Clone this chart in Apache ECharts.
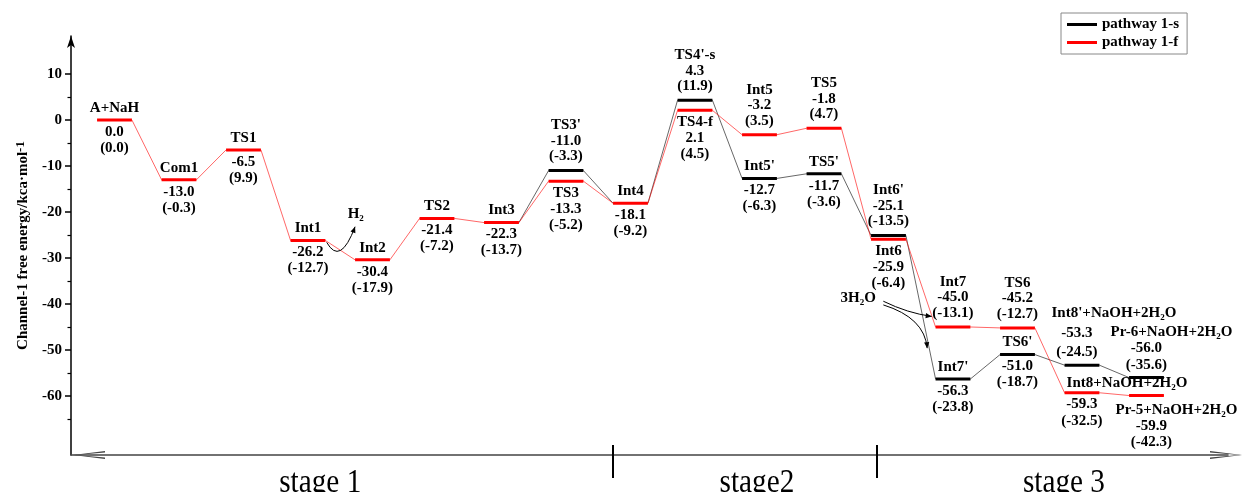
<!DOCTYPE html>
<html><head><meta charset="utf-8">
<script src="https://cdn.jsdelivr.net/npm/echarts@6/dist/echarts.min.js"></script>
<style>html,body{margin:0;padding:0;background:#fff}#c{width:1244px;height:492px}</style>
</head><body><div id="c"></div>
<script>
// ---------- data ----------
const slotsF  = [0,1,2,3,4,5,6,7,8,9,10,11,12,13,14,15,16];
const namesF  = ['A+NaH','Com1','TS1','Int1','Int2','TS2','Int3','TS3','Int4','TS4-f','Int5','TS5','Int6','Int7','TS6','Int8+NaOH+2H_2O','Pr-5+NaOH+2H_2O'];
const energyF = [0.0,-13.0,-6.5,-26.2,-30.4,-21.4,-22.3,-13.3,-18.1,2.1,-3.2,-1.8,-25.9,-45.0,-45.2,-59.3,-59.9];
const parenF  = [0.0,-0.3,9.9,-12.7,-17.9,-7.2,-13.7,-5.2,-9.2,4.5,3.5,4.7,-6.4,-13.1,-12.7,-32.5,-42.3];

const slotsS  = [6,7,8,9,10,11,12,13,14,15,16];
const namesS  = ['Int3',"TS3'",'Int4',"TS4'-s","Int5'","TS5'","Int6'","Int7'","TS6'","Int8'+NaOH+2H_2O",'Pr-6+NaOH+2H_2O'];
const energyS = [-22.3,-11.0,-18.1,4.3,-12.7,-11.7,-25.1,-56.3,-51.0,-53.3,-56.0];
const parenS  = [-13.7,-3.3,-9.2,11.9,-6.3,-3.6,-13.5,-23.8,-18.7,-24.5,-35.6];
const sharedS = [true,false,true,false,false,false,false,false,false,false,false];

const stageNames   = ['stage 1','stage2','stage 3'];
const stageCenters = [3.19, 9.96, 14.72];
const stageBounds  = [7.73, 11.82];
const yMajorTicks  = [-60,-50,-40,-30,-20,-10,0,10];
const yMinorTicks  = [-65,-55,-45,-35,-25,-15,-5,5];
const legendNames  = ['pathway 1-s','pathway 1-f'];

// annotations (data coordinates)
const annoTexts  = ['H_2','3H_2O'];
const annoAt     = [[3.74,-20.4],[11.53,-38.7]];
const annoArrows = [
  [{from:[3.29,-26.6], ctrl:[3.50,-31.8], to:[3.73,-23.2]}],
  [{from:[11.92,-39.4], ctrl:[12.3,-42.0], to:[12.67,-42.7]},
   {from:[11.92,-40.2], ctrl:[12.56,-43.0], to:[12.60,-49.6]}]
];

// ---------- layout / style ----------
const layoutF = ['split','split','split','split','split','split','split','down','split','down','up','up','down','up','up','int8','pr5'];
const layoutS = [null,'up',null,'up','split','split','up','split','split','int8p','pr6'];
const LAYOUT = {
  split: {nx:0,  ny:-12, vx:0,  vy:12,    py:28},
  up:    {nx:0,  ny:-45, vx:0,  vy:-29.5, py:-14},
  down:  {nx:0,  ny:12,  vx:0,  vy:28,    py:44},
  int8:  {nx:45, ny:-10, vx:0,  vy:11,    py:28},
  pr5:   {nx:30, ny:15,  vx:5,  vy:31,    py:47},
  int8p: {nx:32, ny:-52, vx:-5, vy:-32,   py:-13},
  pr6:   {nx:25, ny:-45, vx:0,  vy:-29,   py:-12}
};
const HW = 0.27;
const X_MIN = -0.6744, X_MAX = 17.264;
const Y_MIN = -72.83, Y_MAX = 18.26;
const FONT = '"Liberation Serif", "Times New Roman", serif';
const RED = '#ff0000', BLACK = '#000000';

function rt(s){ return s.replace(/_(\d)/g, '{s|$1}'); }
const RICH = { s: {fontSize:9, fontWeight:'bold', fontFamily:FONT, verticalAlign:'bottom', lineHeight:1, fill:'#000'} };
function txt(str, x, y){
  return {type:'text', style:{text: rt(str), x:x, y:y, align:'center', verticalAlign:'middle',
    fontSize:15, fontWeight:'bold', fontFamily:FONT, lineHeight:18, fill:'#000', rich:RICH}};
}

function connectorData(slots, energy){
  const out = [];
  slots.forEach((s,i)=>{ out.push([s-HW, energy[i]]); out.push([s+HW, energy[i]]); });
  return out;
}

const levelsF = slotsF.map((s,i)=>({x:s, e:energyF[i], p:parenF[i], name:namesF[i], lay:layoutF[i]}));
const levelsS = slotsS.map((s,i)=>({x:s, e:energyS[i], p:parenS[i], name:namesS[i], lay:layoutS[i]})).filter((d,i)=>!sharedS[i]);

function levelRenderer(levels, color){
  return function(params, api){
    const L = levels[params.dataIndex];
    const p0 = api.coord([L.x - HW, L.e]);
    const p1 = api.coord([L.x + HW, L.e]);
    const cx = (p0[0]+p1[0])/2, cy = p0[1];
    const o = LAYOUT[L.lay];
    return {type:'group', children:[
      {type:'line', shape:{x1:p0[0], y1:cy, x2:p1[0], y2:cy}, style:{stroke:color, lineWidth:3}},
      txt(L.name, cx+o.nx, cy+o.ny),
      txt(L.e.toFixed(1), cx+o.vx, cy+o.vy),
      txt('(' + L.p.toFixed(1) + ')', cx+o.vx, cy+o.py)
    ]};
  };
}

function arrowHead(tip, from){
  const dx = tip[0]-from[0], dy = tip[1]-from[1];
  const L = Math.hypot(dx,dy) || 1; const ux = dx/L, uy = dy/L;
  const len = 6, w = 2.6;
  const bx = tip[0]-ux*len, by = tip[1]-uy*len;
  return {type:'polygon', shape:{points:[tip,[bx-uy*w, by+ux*w],[bx+uy*w, by-ux*w]]}, style:{fill:'#000'}};
}

function annoRenderer(params, api){
  const i = params.dataIndex;
  const at = api.coord(annoAt[i]);
  const children = [txt(annoTexts[i], at[0], at[1])];
  annoArrows[i].forEach(a=>{
    const f = api.coord(a.from), c = api.coord(a.ctrl), t = api.coord(a.to);
    children.push({type:'bezierCurve', shape:{x1:f[0], y1:f[1], x2:t[0], y2:t[1], cpx1:c[0], cpy1:c[1]},
      style:{stroke:'#000', lineWidth:1, fill:null}});
    children.push(arrowHead(t, c));
  });
  return {type:'group', children:children};
}

function stageRenderer(params, api){
  const p = api.coord([stageCenters[params.dataIndex], Y_MIN]);
  return {type:'text', x:p[0], y:p[1] + 28, scaleX:0.86,
    style:{text:stageNames[params.dataIndex], x:0, y:0, align:'center', verticalAlign:'middle',
      fontSize:34, fontFamily:FONT, fill:'#000'}};
}

const chevron = 'path://M4,0 L8,32 L6.6,32 L4,3 L1.4,32 L0,32 Z';

const option = {
  animation: false,
  backgroundColor: '#fff',
  grid: {left:71, right:16, top:36, bottom:37, containLabel:false},
  legend: {
    data: legendNames, orient:'vertical', left:1061, top:13,
    icon:'rect', itemWidth:30, itemHeight:3, itemGap:3,
    padding:[4,8,4,6], borderColor:'#888', borderWidth:1, backgroundColor:'#fff',
    textStyle:{fontFamily:FONT, fontWeight:'bold', fontSize:15, color:'#000'}
  },
  xAxis: [
    {type:'value', min:X_MIN, max:X_MAX, position:'bottom',
     axisLine:{show:true, onZero:false, symbol:[chevron, chevron], symbolSize:[8,32], symbolOffset:[18,-2],
       lineStyle:{color:'#444', width:1.6}},
     axisTick:{show:true, customValues:stageBounds, length:23, inside:false, lineStyle:{color:'#000', width:2}},
     axisLabel:{show:false},
     splitLine:{show:false}},
    {type:'value', min:X_MIN, max:X_MAX, position:'bottom',
     axisLine:{show:false, onZero:false},
     axisTick:{show:true, customValues:stageBounds, length:10, inside:true, lineStyle:{color:'#000', width:2}},
     axisLabel:{show:false}, splitLine:{show:false}}
  ],
  yAxis: [
    {type:'value', min:Y_MIN, max:Y_MAX, position:'left',
     name:'{a|Channel-1 free energy/kca·mol}{b|-1}', nameLocation:'middle', nameGap:38, nameRotate:90,
     nameTextStyle:{rich:{
       a:{fontFamily:FONT, fontWeight:'bold', fontSize:15, color:'#000', lineHeight:18},
       b:{fontFamily:FONT, fontWeight:'bold', fontSize:13, color:'#000', verticalAlign:'top', lineHeight:10}}},
     axisLine:{show:true, onZero:false, symbol:['none','arrow'], symbolSize:[6,12], lineStyle:{color:'#000', width:1.5}},
     axisTick:{show:true, customValues:yMajorTicks, length:6, lineStyle:{color:'#000', width:1.5}},
     axisLabel:{show:true, customValues:yMajorTicks, margin:9, fontFamily:FONT, fontWeight:'bold', fontSize:15, color:'#000'},
     splitLine:{show:false}},
    {type:'value', min:Y_MIN, max:Y_MAX, position:'left',
     axisLine:{show:false, onZero:false},
     axisTick:{show:true, customValues:yMinorTicks, length:3.5, lineStyle:{color:'#000', width:1.2}},
     axisLabel:{show:false}, splitLine:{show:false}}
  ],
  series: [
    {name:legendNames[0], type:'line', color:BLACK, data:connectorData(slotsS, energyS), symbol:'none',
     lineStyle:{color:BLACK, width:0.6}, z:2, silent:true},
    {name:legendNames[1], type:'line', color:RED, data:connectorData(slotsF, energyF), symbol:'none',
     lineStyle:{color:RED, width:0.6}, z:3, silent:true},
    {name:'levels-s', type:'custom', clip:false, z:4, silent:true,
     data:levelsS.map(d=>[d.x, d.e]), renderItem:levelRenderer(levelsS, BLACK)},
    {name:'levels-f', type:'custom', clip:false, z:5, silent:true,
     data:levelsF.map(d=>[d.x, d.e]), renderItem:levelRenderer(levelsF, RED)},
    {name:'annotations', type:'custom', clip:false, z:6, silent:true,
     data:annoAt, renderItem:annoRenderer},
    {name:'stages', type:'custom', clip:false, z:6, silent:true,
     data:stageCenters.map(c=>[c, Y_MIN]), renderItem:stageRenderer}
  ]
};
const chart = echarts.init(document.getElementById('c'), null, {renderer:'canvas'});
chart.setOption(option);
</script></body></html>
